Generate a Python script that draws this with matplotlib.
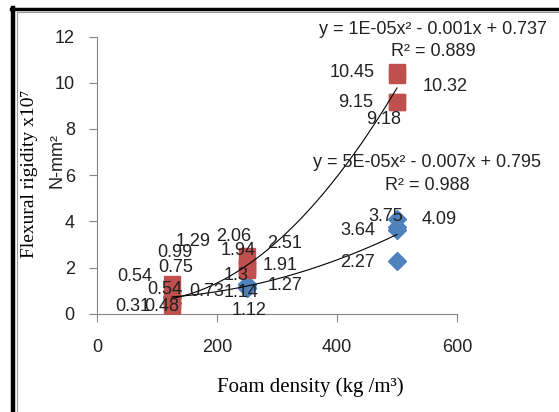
import matplotlib
matplotlib.use('Agg')
import matplotlib.pyplot as plt
from matplotlib.lines import Line2D
import numpy as np

# foam density (kg/m3) and flexural rigidity values, four specimens each
density = [125, 125, 125, 125, 250, 250, 250, 250, 500, 500, 500, 500]
red_vals = [0.31, 0.54, 0.54, 1.29, 1.91, 1.94, 2.06, 2.51, 10.45, 10.32, 9.15, 9.18]
blue_vals = [0.48, 0.73, 0.75, 0.99, 1.3, 1.14, 1.12, 1.27, 3.75, 4.09, 3.64, 2.27]

red_eq = 'y = 5E-05x\u00b2 - 0.007x + 0.795'
red_r2 = 'R\u00b2 = 0.988'
blue_eq = 'y = 1E-05x\u00b2 - 0.001x + 0.737'
blue_r2 = 'R\u00b2 = 0.889'

# label offsets in pixels from each point (hand placed like the original)
red_off = [(-39, 0), (-37, 25), (-7, 12), (21, 43),
           (33, 4), (-9, 19), (-13, 30), (38, 12),
           (-45, 0), (48, -11), (-41, 0), (-13, -18)]
blue_off = [(-10, -4), (35, 6), (4, 29), (3, 39),
            (-11, 8), (-6, -5), (2, -22), (38, -1),
            (-11, 11), (42, 0), (-39, -1), (-39, -1)]

RED = '#C0504D'
BLUE = '#4F81BD'
sans = ['Liberation Sans', 'DejaVu Sans']
serif = ['Liberation Serif', 'DejaVu Serif']

fig = plt.figure(figsize=(5.59, 4.12), dpi=100)
ax = fig.add_axes([0.1735, 0.2379, 0.644, 0.6735])

ax.plot(density, blue_vals, 'D', color=BLUE, ms=9, mec=BLUE, zorder=3)
ax.plot(density, red_vals, 's', color=RED, ms=12, mec=RED, zorder=4)

# polynomial trendlines
xs = np.linspace(125, 500, 200)
for vals in (red_vals, blue_vals):
    coef = np.polyfit(density, vals, 2)
    ax.plot(xs, np.polyval(coef, xs), color='black', lw=0.8, zorder=5)

for x, v, off in zip(density, red_vals, red_off):
    ax.annotate(f'{v:g}', (x, v), xytext=off, textcoords='offset pixels',
                ha='center', va='center', fontsize=13, family=sans,
                color='#222222', zorder=6)
for x, v, off in zip(density, blue_vals, blue_off):
    ax.annotate(f'{v:g}', (x, v), xytext=off, textcoords='offset pixels',
                ha='center', va='center', fontsize=13, family=sans,
                color='#222222', zorder=6)

ax.set_xlim(0, 600)
ax.set_ylim(0, 12)
ax.set_xticks([0, 200, 400, 600])
ax.set_yticks(range(0, 13, 2))
for s in ['top', 'right']:
    ax.spines[s].set_visible(False)
for s in ['left', 'bottom']:
    ax.spines[s].set_color('#868686')
ax.tick_params(direction='out', length=6, color='#868686', labelsize=13,
               labelcolor='#222222')
ax.tick_params(axis='x', pad=12)
ax.tick_params(axis='y', pad=10)
for lab in ax.get_xticklabels() + ax.get_yticklabels():
    lab.set_family(sans)

W, H = 559, 412
fig.text(433 / W, 1 - 30 / H, blue_eq, ha='center', va='center', fontsize=13, family=sans, color='#222222')
fig.text(433 / W, 1 - 52 / H, blue_r2, ha='center', va='center', fontsize=13, family=sans, color='#222222')
fig.text(427 / W, 1 - 162 / H, red_eq, ha='center', va='center', fontsize=13, family=sans, color='#222222')
fig.text(427 / W, 1 - 186 / H, red_r2, ha='center', va='center', fontsize=13, family=sans, color='#222222')

fig.text(310 / W, 1 - 387 / H, 'Foam density (kg /m\u00b3)', ha='center', va='center',
         fontsize=15, family=serif)
fig.text(30 / W, 1 - 174 / H, 'Flexural rigidity x10\u2077', ha='center', va='center',
         rotation=90, fontsize=14, family=serif)
fig.text(57 / W, 1 - 160 / H, 'N-mm\u00b2', ha='center', va='center',
         rotation=90, fontsize=13, family=sans, color='#222222')

# page frame
fig.add_artist(Line2D([13 / W, 13 / W], [0, 1 - 8 / H], color='black', lw=3.2))
fig.add_artist(Line2D([11 / W, 1], [1 - 9 / H, 1 - 9 / H], color='black', lw=2.5))
fig.add_artist(Line2D([17 / W, 17 / W], [0, 1 - 12 / H], color='#999999', lw=0.8))
fig.add_artist(Line2D([17 / W, 1], [1 - 12 / H, 1 - 12 / H], color='#999999', lw=0.8))

fig.savefig('out.png', dpi=100)
